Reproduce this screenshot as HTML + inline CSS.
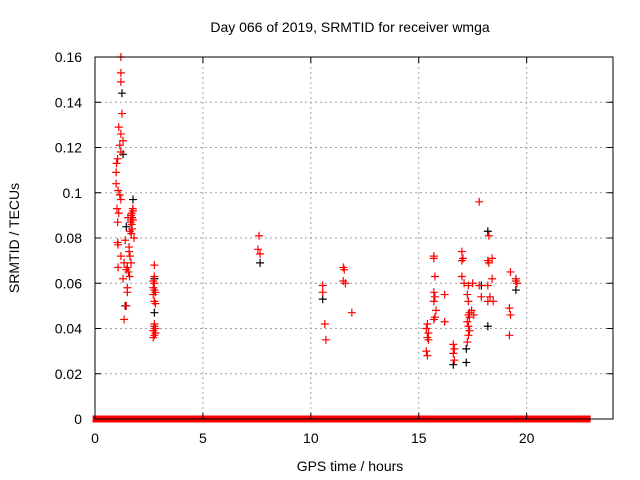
<!DOCTYPE html>
<html><head><meta charset="utf-8"><style>
body{margin:0;background:#fff}
svg{display:block;font-family:"Liberation Sans",sans-serif}
</style></head><body>
<svg id="chart" width="640" height="480">
<text x="350" y="32" text-anchor="middle" font-size="14">Day 066 of 2019, SRMTID for receiver wmga</text>
<text x="350" y="471" text-anchor="middle" font-size="14">GPS time / hours</text>
<text transform="translate(19,238) rotate(-90)" text-anchor="middle" font-size="14">SRMTID / TECUs</text>
<g id="grid"></g><g id="zero"></g><g id="black"></g><g id="red"></g><g id="axes"></g>
</svg>
<script>
const xTicks=[0,5,10,15,20];
const yTicks=[0,0.02,0.04,0.06,0.08,0.1,0.12,0.14,0.16];
const yTickLabels=["0","0.02","0.04","0.06","0.08","0.1","0.12","0.14","0.16"];
const redT=[1.2,1.2,1.2,1.25,1.1,1.2,1.3,1.15,1.2,1.05,1.0,0.98,0.98,1.07,1.15,1.2,1.02,1.1,1.05,1.05,1.07,1.4,1.2,1.35,1.07,1.45,1.3,1.5,1.5,1.45,1.35,1.76,1.67,1.76,1.72,1.81,1.62,1.58,1.62,1.67,1.58,1.53,
1.7,1.72,1.65,1.75,1.7,1.68,1.55,1.6,1.5,
2.75,2.75,2.7,2.75,2.7,2.8,2.7,2.75,2.8,2.75,2.75,2.8,2.7,2.8,2.75,2.7,2.75,
7.6,7.55,7.65,10.55,10.55,10.65,10.7,11.5,11.55,11.5,11.6,11.9,
15.4,15.35,15.45,15.4,15.35,15.4,15.45,15.7,15.7,15.75,15.7,15.75,15.7,15.8,15.75,15.7,16.2,16.2,16.6,16.65,16.6,16.65,
17.0,17.05,17.0,17.0,17.1,17.3,17.25,17.3,17.35,17.3,17.25,17.3,17.35,17.3,17.25,17.35,17.5,17.45,17.55,17.8,17.8,17.9,18.2,18.25,18.2,18.3,18.2,18.25,18.4,18.4,18.45,19.2,19.25,19.2,19.25,19.5,19.5,19.55,19.5];
const redV=[0.160,0.153,0.149,0.135,0.129,0.126,0.123,0.121,0.118,0.115,0.113,0.109,0.104,0.101,0.099,0.097,0.093,0.091,0.087,0.078,0.077,0.079,0.072,0.069,0.067,0.066,0.062,0.058,0.056,0.050,0.044,0.092,0.090,0.088,0.084,0.080,0.083,0.076,0.072,0.069,0.074,0.089,
0.091,0.089,0.087,0.093,0.086,0.082,0.065,0.063,0.067,
0.068,0.063,0.061,0.060,0.058,0.056,0.055,0.052,0.051,0.042,0.041,0.040,0.039,0.038,0.037,0.036,0.057,
0.081,0.075,0.073,0.059,0.056,0.042,0.035,0.067,0.066,0.061,0.060,0.047,
0.042,0.040,0.038,0.036,0.030,0.028,0.035,0.072,0.071,0.063,0.056,0.054,0.052,0.048,0.045,0.044,0.055,0.043,0.033,0.031,0.029,0.026,
0.074,0.071,0.070,0.063,0.060,0.059,0.055,0.052,0.047,0.046,0.043,0.041,0.039,0.037,0.034,0.045,0.060,0.048,0.046,0.096,0.059,0.054,0.070,0.069,0.059,0.054,0.052,0.081,0.071,0.062,0.052,0.049,0.046,0.037,0.065,0.062,0.061,0.060];
const blackT=[1.25,1.3,1.76,1.45,1.4,2.75,2.75,7.65,10.55,16.6,17.2,17.2,18.2,18.2,19.5,17.9];
const blackV=[0.144,0.117,0.097,0.085,0.050,0.062,0.047,0.069,0.053,0.024,0.025,0.031,0.083,0.041,0.057,0.059];
const zeroStart=[0.05,15.35,15.7,16.4,16.75,17.2,18.0];
const zeroEnd=[15.3,15.6,16.3,16.7,17.1,17.9,22.8];
const X0=95,X1=613,Y0=419,Y1=57,XMAX=24,YMAX=0.16;
const sx=t=>X0+t/XMAX*(X1-X0), sy=v=>Y0-v/YMAX*(Y0-Y1);
const NS="http://www.w3.org/2000/svg";
function mk(tag,attrs,parent){const e=document.createElementNS(NS,tag);for(const k in attrs)e.setAttribute(k,attrs[k]);document.getElementById(parent).appendChild(e);return e;}
xTicks.forEach(t=>{const x=sx(t);
 if(t>0){const g=mk('line',{x1:x,x2:x,y1:Y1,y2:Y0,stroke:'#a0a0a0','stroke-dasharray':'2,3'},'grid');
 
 }
 const a=mk('line',{x1:x,x2:x,y1:Y0,y2:Y0-6,stroke:'#000'},'axes');
 const b=mk('line',{x1:x,x2:x,y1:Y1,y2:Y1+6,stroke:'#000'},'axes');
 const l=mk('text',{x:x,y:443,'text-anchor':'middle','font-size':'14'},'axes');l.textContent=t;
 
 });
yTicks.forEach((v,i)=>{const y=sy(v);
 if(v>0&&v<YMAX){const g=mk('line',{x1:X0,x2:X1,y1:y,y2:y,stroke:'#a0a0a0','stroke-dasharray':'2,3'},'grid');
 
 }
 const a=mk('line',{x1:X0,x2:X0+6,y1:y,y2:y,stroke:'#000'},'axes');
 const b=mk('line',{x1:X1,x2:X1-6,y1:y,y2:y,stroke:'#000'},'axes');
 const l=mk('text',{x:82,y:y+5,'text-anchor':'end','font-size':'14'},'axes');l.textContent=yTickLabels[i];
 
 });
zeroStart.forEach((s,i)=>{const r=mk('rect',{x:sx(s)-3.5,y:Y0-3.5,width:sx(zeroEnd[i])-sx(s)+7,height:7,fill:'#f00'},'zero');
 
 });
function plus(t,v,c,parent,name){const x=sx(t),y=sy(v);
 const p=mk('path',{d:`M${x-4},${y}H${x+4}M${x},${y-4}V${y+4}`,stroke:c,'stroke-width':1.2,fill:'none'},parent);
 
 }
blackT.forEach((t,i)=>plus(t,blackV[i],'#000','black','black-point'));
redT.forEach((t,i)=>plus(t,redV[i],'#f00','red','srmtid-point'));
const fr=mk('rect',{x:X0,y:Y1,width:X1-X0,height:Y0-Y1,fill:'none',stroke:'#000'},'axes');


</script>
</body></html>
